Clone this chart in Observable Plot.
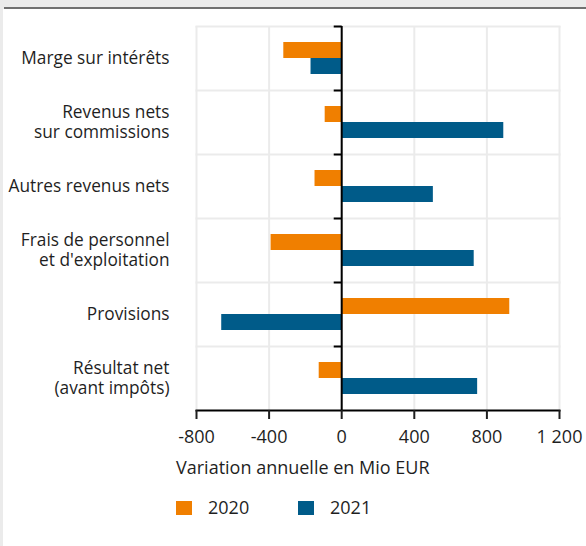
<!DOCTYPE html>
<html>
<head>
<meta charset="utf-8">
<script src="https://cdn.jsdelivr.net/npm/d3@7"></script>
<script src="https://cdn.jsdelivr.net/npm/@observablehq/plot@0.6"></script>
<style>
  html, body { margin: 0; padding: 0; }
  body { width: 586px; height: 546px; overflow: hidden; background: #ebebeb; position: relative;
         font-family: "Open Sans", sans-serif; color: #1f1f1f; }
  #topline { position: absolute; left: 4px; top: 7px; width: 582px; height: 2px; background: #707070; }
  #panel { position: absolute; left: 3px; top: 9px; right: 0; bottom: 0; background: #ffffff; }
  #chart { position: absolute; left: 0; top: 0; }
  #xlabel { position: absolute; left: 176px; top: 458px; font-size: 18px; line-height: 18px; white-space: nowrap; }
  #legend { position: absolute; left: 176px; top: 498px; font-size: 18px; line-height: 18px; }
  .item { position: absolute; top: 0; white-space: nowrap; }
  .sw { position: absolute; top: 3px; left: 0; width: 16px; height: 14px; }
  .lab { position: absolute; left: 32px; top: 0; }
</style>
</head>
<body>
<div id="topline"></div>
<div id="panel"></div>
<div id="chart"></div>
<div id="xlabel">Variation annuelle en Mio EUR</div>
<div id="legend"></div>
<script>
const categories = [
  "Marge sur intérêts",
  "Revenus nets\nsur commissions",
  "Autres revenus nets",
  "Frais de personnel\net d'exploitation",
  "Provisions",
  "Résultat net\n(avant impôts)"
];
const years = ["2020", "2021"];
const values2020 = [-319, -91, -147, -389, 926, -124];
const values2021 = [-169, 893, 505, 730, -661, 749];
const colors = ["#f07f00", "#005b89"];
const xTicks = [-800, -400, 0, 400, 800, 1200];

const data = [];
categories.forEach((c, i) => {
  data.push({category: c, year: years[0], value: values2020[i]});
  data.push({category: c, year: years[1], value: values2021[i]});
});

const loc = d3.formatLocale({decimal: ",", thousands: " ", grouping: [3], currency: ["", " €"], minus: "-"});
const fmt = loc.format(",");

const plot = Plot.plot({
  width: 586,
  height: 470,
  marginLeft: 196,
  marginRight: 27,
  marginTop: 25,
  marginBottom: 60,
  style: {fontFamily: "'Open Sans', sans-serif", fontSize: "18px", background: "transparent", color: "#1f1f1f", overflow: "visible"},
  x: {domain: [-800, 1200]},
  y: {domain: years, paddingInner: 0, paddingOuter: 1, axis: null},
  fy: {domain: categories, padding: 0, axis: null, label: null},
  color: {domain: years, range: colors},
  marks: [
    Plot.gridX(xTicks, {stroke: "#ebebeb", strokeOpacity: 1, strokeWidth: 2}),
    Plot.frame({anchor: "top", stroke: "#ebebeb", strokeWidth: 2}),
    Plot.barX(data, {fy: "category", y: "year", x: "value", fill: "year"}),
    Plot.link(categories, {fy: d => d, x1: -44, x2: 0, y1: () => years[0], y2: () => years[0], dy: -24, stroke: "black", strokeWidth: 2}),
    Plot.ruleX([0], {stroke: "black", strokeWidth: 2}),
    Plot.frame({anchor: "bottom", stroke: "black", strokeWidth: 2, facet: "super"}),
    Plot.axisX(xTicks, {anchor: "bottom", tickSize: 9, tickPadding: 11, strokeWidth: 2, tickFormat: fmt, label: null, fontSize: 18}),
    Plot.axisFy({anchor: "left", tickSize: 0, tickPadding: 27, lineHeight: 1.16, label: null, fontSize: 17.3, dy: -1})
  ]
});
document.getElementById("chart").appendChild(plot);

const legend = document.getElementById("legend");
const offsets = [0, 122];
years.forEach((y, i) => {
  const it = document.createElement("div");
  it.className = "item";
  it.style.left = offsets[i] + "px";
  const sw = document.createElement("div");
  sw.className = "sw";
  sw.style.background = colors[i];
  const lab = document.createElement("div");
  lab.className = "lab";
  lab.textContent = y;
  it.appendChild(sw);
  it.appendChild(lab);
  legend.appendChild(it);
});
</script>
</body>
</html>
